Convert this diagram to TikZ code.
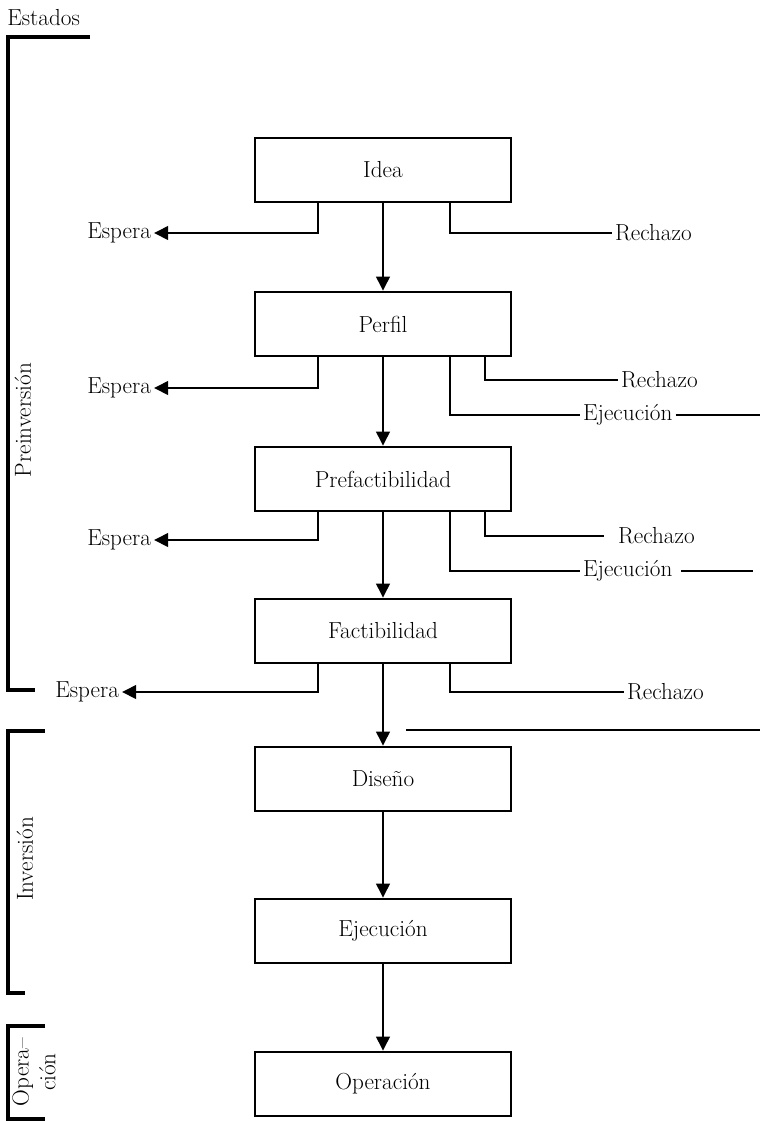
\documentclass[tikz,border=0pt]{standalone}
\usepackage{fontspec}
\usetikzlibrary{arrows.meta}
\begin{document}
\begin{tikzpicture}[x=0.025cm,y=-0.025cm,
  every node/.style={font=\fontsize{16.5}{19}\selectfont},
  box/.style={draw,line width=1.8pt,minimum width=6.4cm,minimum height=1.6cm,inner sep=0pt},
  lbl/.style={inner sep=2pt},
  wire/.style={line width=2pt},
  arr/.style={wire,-{Triangle[length=10pt,width=9.5pt]}},
  brace/.style={line width=2.2pt}]
        \useasboundingbox (0,0) rectangle (760,1121);
        % etapas
        \draw (7,18) node[anchor=west,inner sep=0pt](est){Estados};
        \draw (23,420) node[rotate=90](pre){Preinversión};
        \draw (25,859) node[rotate=90](inv){Inversión};
        \draw (34,1072) node[rotate=90,align=center](opr){Opera--\\ción};
        \draw[brace] (90,37) -- (8,37) -- (8,690) -- (35,690);
        \draw[brace] (45,731) -- (8,731) -- (8,993) -- (25,993);
        \draw[brace] (45,1026) -- (8,1026) -- (8,1119) -- (45,1119);
        % cajas
        \draw (383,170) node[box](idea){Idea};
        \draw (383,324) node[box](perfil){Perfil};
        \draw (383,479) node[box](prefac){Prefactibilidad};
        \draw (383,631) node[box](fac){Factibilidad};
        \draw (383,779) node[box](dis){Diseño};
        \draw (383,931) node[box](eje){Ejecución};
        \draw (383,1084) node[box](ope){Operación};
        % salidas
        \draw (154,233) node[lbl,anchor=east](e1){Espera};
        \draw (154,388) node[lbl,anchor=east](e2){Espera};
        \draw (154,540) node[lbl,anchor=east](e3){Espera};
        \draw (122,692) node[lbl,anchor=east](e4){Espera};
        \draw (612,233) node[lbl,anchor=west](r1){Rechazo};
        \draw (618,380) node[lbl,anchor=west](r2){Rechazo};
        \draw (615,536) node[lbl,anchor=west](r3){Rechazo};
        \draw (624,692) node[lbl,anchor=west](r4){Rechazo};
        \draw (580,415) node[lbl,anchor=west](x1){Ejecución};
        \draw (580,571) node[lbl,anchor=west](x2){Ejecución};
        \coordinate (x1e) at (760,415);
        \coordinate (x2e) at (753,571);
        \coordinate (l1) at (406,730);
        \coordinate (l2) at (760,730);
        \draw[arr] (idea) -- (perfil);
        \draw[arr] (perfil) -- (prefac);
        \draw[arr] (prefac) -- (fac);
        \draw[arr] (fac) -- (dis);
        \draw[arr] (dis) -- (eje);
        \draw[arr] (eje) -- (ope);
        \draw[arr] ([xshift=-1.625cm]idea.south) |- (e1);
        \draw[arr] ([xshift=-1.625cm]perfil.south) |- (e2);
        \draw[arr] ([xshift=-1.625cm]prefac.south) |- (e3);
        \draw[arr] ([xshift=-1.625cm]fac.south) |- (e4);
        \draw[wire]
          ([xshift=1.675cm]idea.south) |- (r1)
          ([xshift=2.55cm]perfil.south) |- (r2)
          ([xshift=1.675cm]perfil.south) |- (x1)
          (x1) -- (x1e)
          ([xshift=1.675cm]prefac.south) |- (x2)
          ([xshift=4pt]x2.east) -- (x2e)
          ([xshift=1.675cm]fac.south) |- (r4)
          (l1) -- (l2)
        ;
        \draw[wire,shorten >=8pt] ([xshift=2.55cm]prefac.south) |- (r3);
      \end{tikzpicture}
\end{document}
